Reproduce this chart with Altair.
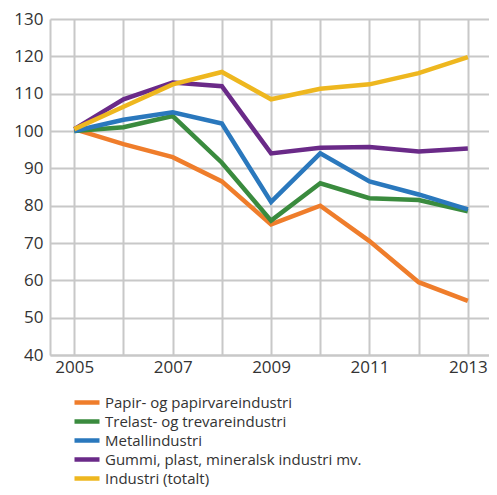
import altair as alt
import pandas as pd

years = [2005, 2006, 2007, 2008, 2009, 2010, 2011, 2012, 2013]
series_names = [
    "Papir- og papirvareindustri",
    "Trelast- og trevareindustri",
    "Metallindustri",
    "Gummi, plast, mineralsk industri mv.",
    "Industri (totalt)",
]
papir = [100.5, 96.5, 93.0, 86.5, 75.0, 80.0, 70.5, 59.5, 54.5]
trelast = [100.0, 101.0, 104.0, 91.5, 76.0, 86.0, 82.0, 81.5, 78.5]
metall = [100.0, 103.0, 105.0, 102.0, 81.0, 94.0, 86.5, 83.0, 79.0]
gummi = [100.5, 108.5, 113.0, 112.0, 94.0, 95.5, 95.7, 94.5, 95.3]
industri = [100.5, 106.5, 112.5, 115.8, 108.5, 111.3, 112.5, 115.5, 119.8]
colors = ["#ef7d2b", "#3a8b3e", "#2a78bd", "#6a2a88", "#eeb71f"]

rows = []
for name, vals in zip(series_names, [papir, trelast, metall, gummi, industri]):
    for y, v in zip(years, vals):
        rows.append({"year": y, "value": v, "series": name, "order": series_names.index(name)})
df = pd.DataFrame(rows)

FONT = "Open Sans"
TXT = "#333333"
GRID = "#c8c8c8"

chart = (
    alt.Chart(df)
    .mark_line(strokeWidth=4.5, strokeJoin="miter", strokeCap="butt")
    .encode(
        x=alt.X(
            "year:Q",
            scale=alt.Scale(domain=[2004.506, 2013.43], nice=False, zero=False),
            axis=alt.Axis(
                values=years,
                format="d",
                labelExpr="datum.value % 2 == 1 ? datum.label : ''",
                title=None,
                ticks=False,
                labelPadding=4,
                labelFontSize=17,
                labelFont=FONT,
                labelColor=TXT,
                grid=True,
                gridColor=GRID,
                gridWidth=2,
                domainColor=GRID,
                domainWidth=2,
            ),
        ),
        y=alt.Y(
            "value:Q",
            scale=alt.Scale(domain=[40, 130], nice=False, zero=False),
            axis=alt.Axis(
                values=list(range(40, 131, 10)),
                title=None,
                ticks=False,
                labelPadding=7,
                labelFontSize=17,
                labelFont=FONT,
                labelColor=TXT,
                grid=True,
                gridColor=GRID,
                gridWidth=2,
                domainColor=GRID,
                domainWidth=2,
            ),
        ),
        color=alt.Color(
            "series:N",
            sort=series_names,
            scale=alt.Scale(domain=series_names, range=colors),
            legend=alt.Legend(
                title=None,
                orient="none",
                legendX=22,
                legendY=374,
                symbolType="stroke",
                symbolStrokeWidth=4.5,
                symbolSize=625,
                clipHeight=19,
                labelFontSize=15,
                labelFont=FONT,
                labelColor=TXT,
                labelOffset=3,
                rowPadding=0,
                labelLimit=400,
            ),
        ),
        order=alt.Order("order:Q"),
    )
    .properties(
        width=439,
        height=336,
        autosize=alt.AutoSizeParams(type="none"),
        padding={"left": 42, "top": 11, "right": 0, "bottom": 132},
    )
    .configure_view(stroke=None)
)

chart.save("out.html", embed_options={"renderer": "svg", "actions": False})
